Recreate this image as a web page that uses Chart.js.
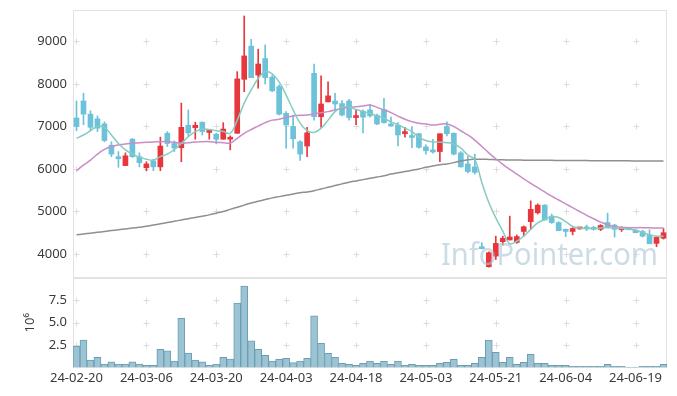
<!DOCTYPE html>
<html>
<head>
<meta charset="utf-8">
<script src="https://cdn.jsdelivr.net/npm/chart.js@4.4.1/dist/chart.umd.min.js"></script>
<style>
  html, body { margin: 0; padding: 0; background: #fff; }
  #wrap { position: relative; width: 677px; height: 396px; }
  #price { position: absolute; left: 0; top: 0; }
  #volume { position: absolute; left: 0; top: 278px; }
</style>
</head>
<body>
<div id="wrap">
  <canvas id="price" width="677" height="278"></canvas>
  <canvas id="volume" width="677" height="118"></canvas>
</div>
<script>
// trading days
const dates = [
  '24-02-20','24-02-21','24-02-22','24-02-23','24-02-26','24-02-27','24-02-28','24-02-29','24-03-04','24-03-05',
  '24-03-06','24-03-07','24-03-08','24-03-11','24-03-12','24-03-13','24-03-14','24-03-15','24-03-18','24-03-19',
  '24-03-20','24-03-21','24-03-22','24-03-25','24-03-26','24-03-27','24-03-28','24-03-29','24-04-01','24-04-02',
  '24-04-03','24-04-04','24-04-05','24-04-08','24-04-09','24-04-11','24-04-12','24-04-15','24-04-16','24-04-17',
  '24-04-18','24-04-19','24-04-22','24-04-23','24-04-24','24-04-25','24-04-26','24-04-29','24-04-30','24-05-02',
  '24-05-03','24-05-07','24-05-08','24-05-09','24-05-10','24-05-13','24-05-14','24-05-16','24-05-17','24-05-20',
  '24-05-21','24-05-22','24-05-23','24-05-24','24-05-27','24-05-28','24-05-29','24-05-30','24-05-31','24-06-03',
  '24-06-04','24-06-05','24-06-07','24-06-10','24-06-11','24-06-12','24-06-13','24-06-14','24-06-17','24-06-18',
  '24-06-19','24-06-20','24-06-21','24-06-24','24-06-25'
];

const opens = [
  7200,7600,7290,7180,7060,6560,6290,6080,6700,6290,
  6030,6190,6050,6840,6600,6500,7030,6970,7100,6860,
  6820,6700,6700,6840,8110,8890,8210,8600,8160,7940,
  7310,7000,6640,6540,8250,7230,7580,7600,7540,7600,
  7210,7360,7390,7260,7400,7060,7030,6830,6760,6830,
  6520,6450,6410,7000,6840,6380,6120,6050,4170,3700,
  3950,4290,4330,4270,4530,4760,4970,5150,4890,4740,
  4580,4530,4590,4620,4610,4580,4740,4680,4570,4620,
  4560,4530,4450,4250,4370
];
const highs = [
  7600,7780,7370,7250,7110,6640,6410,6380,6720,6380,
  6170,6230,6750,6880,6660,7550,7390,7100,7110,6920,
  6840,7090,6780,8290,9600,9050,8820,8920,8200,7980,
  7350,7270,6670,6980,8470,8190,8050,7780,7610,7640,
  7390,7390,7520,7290,7660,7220,7090,6980,7000,6840,
  6570,6700,6830,7110,6850,6410,6300,6350,4265,4050,
  4420,4420,4890,4450,4660,5250,5180,5160,4940,4760,
  4590,4620,4630,4680,4650,4690,4960,4700,4640,4630,
  4580,4560,4570,4420,4600
];
const lows = [
  6900,7040,6900,6880,6640,6290,6040,6080,6270,6050,
  5960,5960,5960,6530,6410,6170,6780,6700,6800,6700,
  6590,6700,6450,6840,7820,8150,7900,8000,7820,7270,
  6490,6490,6200,6290,7150,6980,7580,7390,7250,7150,
  7040,6850,7220,7040,7080,7010,6540,6750,6500,6490,
  6350,6370,6170,6780,6330,6040,5910,5880,4120,3690,
  3870,4210,4330,4250,4420,4580,4940,4800,4720,4550,
  4410,4450,4580,4550,4560,4550,4640,4400,4530,4570,
  4500,4400,4240,4170,4350
];
const closes = [
  7000,7290,6980,6960,6670,6350,6240,6310,6290,6150,
  6120,6050,6540,6600,6490,6980,6850,7030,6880,6890,
  6700,6940,6740,8120,8660,8150,8470,8150,7840,7290,
  7040,6710,6350,6850,7230,7530,7720,7530,7270,7210,
  7250,7220,7250,7060,7090,7010,6800,6880,6740,6510,
  6430,6400,6830,6830,6350,6050,5940,5920,4125,4030,
  4250,4370,4400,4410,4640,5050,5150,4800,4740,4550,
  4530,4600,4620,4590,4580,4670,4640,4580,4620,4570,
  4500,4420,4240,4390,4500
];

// moving averages
const ma5 = [
  6720,6800,6900,7000,6980,6800,6600,6450,6350,6280,
  6230,6210,6290,6350,6460,6600,6760,6880,6940,6930,
  6900,6880,6840,7150,7550,7860,8130,8290,8240,8050,
  7740,7390,7080,6900,6860,6960,7150,7350,7450,7460,
  7400,7350,7310,7250,7190,7110,7040,6960,6880,6750,
  6670,6640,6630,6620,6590,6490,6330,6220,5680,5210,
  4850,4540,4240,4300,4420,4580,4730,4810,4880,4860,
  4760,4650,4610,4600,4600,4610,4620,4610,4600,4590,
  4560,4510,4450,4420,4420
];
const ma20 = [
  5960,6090,6210,6350,6460,6525,6565,6590,6605,6620,
  6627,6635,6643,6643,6630,6605,6620,6635,6643,6643,
  6630,6620,6610,6720,6840,6930,7010,7090,7150,7170,
  7215,7245,7265,7270,7295,7325,7350,7390,7425,7450,
  7465,7480,7505,7450,7390,7325,7245,7170,7115,7075,
  7060,7035,7050,7060,7000,6900,6800,6680,6530,6380,
  6240,6110,5990,5880,5770,5660,5560,5460,5360,5270,
  5180,5090,5000,4910,4830,4750,4690,4650,4630,4620,
  4620,4620,4615,4610,4610
];
const ma120 = [
  4450,4470,4490,4510,4530,4550,4570,4590,4610,4630,
  4650,4680,4710,4740,4770,4800,4830,4860,4890,4920,
  4960,5000,5050,5100,5150,5200,5240,5280,5320,5350,
  5380,5410,5440,5460,5490,5530,5570,5610,5650,5690,
  5720,5750,5780,5810,5840,5880,5910,5940,5970,6000,
  6040,6070,6100,6120,6150,6190,6220,6230,6230,6225,
  6220,6215,6212,6210,6208,6206,6205,6204,6203,6202,
  6200,6199,6198,6197,6196,6195,6194,6193,6192,6191,
  6190,6190,6189,6188,6188
];

// volume in millions of shares
const volumes = [
  2.4,3.05,0.84,1.14,0.39,0.62,0.39,0.39,0.62,0.39,
  0.24,0.24,2.04,1.85,0.73,5.5,1.62,0.84,0.62,0.24,
  0.39,1.14,0.95,7.2,9.1,2.97,2.04,1.37,0.73,0.92,
  1.03,0.54,0.73,1.03,5.77,2.71,1.59,1.14,0.47,0.36,
  0.24,0.47,0.73,0.47,0.7,0.36,0.73,0.24,0.36,0.24,
  0.24,0.24,0.47,0.58,0.92,0.24,0.24,0.47,1.14,3.05,
  1.7,0.58,1.14,0.36,0.58,1.48,0.47,0.47,0.24,0.24,
  0.24,0.13,0.13,0.13,0.13,0.13,0.36,0.13,0.13,0.04,
  0.04,0.13,0.13,0.13,0.36
];

const priceTicks = [4000, 5000, 6000, 7000, 8000, 9000];
const volTicks = [2.5, 5.0, 7.5];

const UP = '#e8363d';
const DOWN = '#6cc2d9';
const TICK_FONT = { family: '"Noto Sans", sans-serif', size: 13 };
const TICK_COLOR = '#3a3a3a';

const candleColors = closes.map((c, i) => (c >= opens[i] ? UP : DOWN));
const bodies = opens.map((o, i) => [o, closes[i]]);
const wicks = lows.map((l, i) => [l, highs[i]]);
const tickIdx = dates.map((d, i) => i).filter(i => i % 10 === 0);

function keepEvery10(scale) {
  scale.ticks = scale.ticks.filter(t => t.value % 10 === 0);
}

// fixed axis width, and no extra room for the end labels
function fixYAxis(scale) {
  scale.width = 73;
  scale.paddingTop = 0;
  scale.paddingBottom = 0;
}

// light frame round the plot area
const frame = {
  id: 'frame',
  beforeDatasetsDraw(chart) {
    const { ctx, chartArea: a } = chart;
    ctx.save();
    ctx.strokeStyle = '#e2e2e2';
    ctx.lineWidth = 1;
    ctx.strokeRect(Math.round(a.left) + 0.5, Math.round(a.top) + 0.5,
      Math.round(a.right - a.left) - 1, Math.round(a.bottom - a.top) - 1);
    ctx.restore();
  }
};

// small "+" marks where grid lines would cross
const crossGrid = {
  id: 'crossGrid',
  beforeDatasetsDraw(chart) {
    const { ctx } = chart;
    const xs = chart.scales.x;
    const ys = chart.scales.y;
    ctx.save();
    ctx.strokeStyle = '#dcdcdc';
    ctx.lineWidth = 1;
    tickIdx.forEach(i => {
      const px = Math.round(xs.getPixelForValue(i)) + 0.5;
      ys.ticks.forEach(t => {
        const py = Math.round(ys.getPixelForValue(t.value)) + 0.5;
        ctx.beginPath();
        ctx.moveTo(px - 3, py); ctx.lineTo(px + 3, py);
        ctx.moveTo(px, py - 3); ctx.lineTo(px, py + 3);
        ctx.stroke();
      });
    });
    ctx.restore();
  }
};

const watermark = {
  id: 'watermark',
  afterDatasetsDraw(chart) {
    const { ctx } = chart;
    ctx.save();
    ctx.font = '31px "Noto Sans", sans-serif';
    ctx.fillStyle = 'rgba(172, 198, 214, 0.62)';
    ctx.textBaseline = 'alphabetic';
    ctx.textAlign = 'left';
    ctx.fillText('InfoPointer.com', 441, 265, 217);
    ctx.restore();
  }
};

new Chart(document.getElementById('price'), {
  type: 'bar',
  data: {
    labels: dates,
    datasets: [
      { type: 'line', data: ma5, borderColor: '#86cbc0', borderWidth: 1.5, pointRadius: 0, tension: 0.4, order: 0 },
      { type: 'line', data: ma20, borderColor: '#ca8cc6', borderWidth: 1.5, pointRadius: 0, tension: 0.4, order: 0 },
      { type: 'line', data: ma120, borderColor: '#8f8f8f', borderWidth: 1.5, pointRadius: 0, tension: 0.4, order: 0 },
      { data: wicks, backgroundColor: candleColors, barThickness: 1, grouped: false, order: 2 },
      { data: bodies, backgroundColor: candleColors, barThickness: 5, grouped: false, minBarLength: 2, order: 1 }
    ]
  },
  options: {
    responsive: false,
    animation: false,
    devicePixelRatio: 1,
    layout: { padding: { top: 10, right: 10, left: 0, bottom: 0 } },
    plugins: { legend: { display: false }, tooltip: { enabled: false } },
    scales: {
      x: { display: false, afterBuildTicks: keepEvery10 },
      y: {
        min: 3435,
        max: 9741,
        afterBuildTicks: s => { s.ticks = priceTicks.map(v => ({ value: v })); },
        afterFit: fixYAxis,
        grid: { display: false, drawTicks: false },
        border: { display: false },
        ticks: { padding: 6, font: TICK_FONT, color: TICK_COLOR, callback: v => String(v) }
      }
    }
  },
  plugins: [frame, crossGrid, watermark]
});

new Chart(document.getElementById('volume'), {
  type: 'bar',
  data: {
    labels: dates,
    datasets: [{
      data: volumes,
      backgroundColor: '#9cc3d3',
      borderColor: '#6a9eb3',
      borderWidth: 1,
      barPercentage: 1,
      categoryPercentage: 1
    }]
  },
  options: {
    responsive: false,
    animation: false,
    devicePixelRatio: 1,
    layout: { padding: { top: 0, right: 10, left: 0, bottom: 0 } },
    plugins: { legend: { display: false }, tooltip: { enabled: false } },
    scales: {
      x: {
        afterBuildTicks: keepEvery10,
        afterFit: s => { s.height = 28.5; },
        grid: { display: false, drawTicks: false },
        border: { display: false },
        ticks: { autoSkip: false, maxRotation: 0, padding: 3, font: TICK_FONT, color: TICK_COLOR }
      },
      y: {
        min: 0,
        max: 10,
        afterBuildTicks: s => { s.ticks = volTicks.map(v => ({ value: v })); },
        afterFit: fixYAxis,
        grid: { display: false, drawTicks: false },
        border: { display: false },
        title: { display: true, text: '10⁶', padding: { top: 22 }, font: TICK_FONT, color: TICK_COLOR },
        ticks: { padding: 6, font: TICK_FONT, color: TICK_COLOR, callback: v => v.toFixed(1) }
      }
    }
  },
  plugins: [frame, crossGrid]
});
</script>
</body>
</html>
